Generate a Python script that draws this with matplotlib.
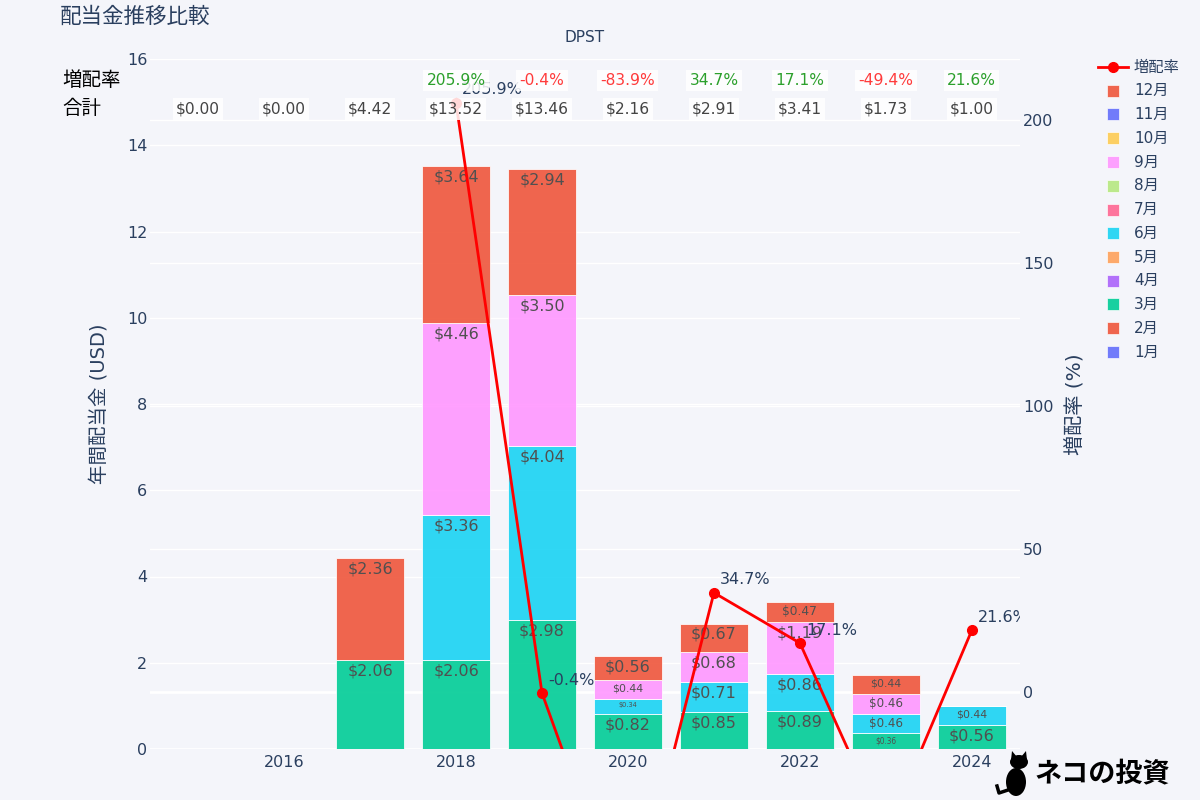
import matplotlib
matplotlib.use("Agg")
import matplotlib.pyplot as plt
from matplotlib.patches import Rectangle, Ellipse, Polygon
from matplotlib.lines import Line2D

plt.rcParams['font.family'] = ['DejaVu Sans', 'Noto Sans CJK JP']

# ---------------- data ----------------
years = [2015, 2016, 2017, 2018, 2019, 2020, 2021, 2022, 2023, 2024]
months = ['1月', '2月', '3月', '4月', '5月', '6月', '7月', '8月', '9月', '10月', '11月', '12月']
mar = [0, 0, 2.06, 2.06, 2.98, 0.82, 0.85, 0.89, 0.36, 0.56]
jun = [0, 0, 0, 3.36, 4.04, 0.34, 0.71, 0.86, 0.46, 0.44]
sep = [0, 0, 0, 4.46, 3.50, 0.44, 0.68, 1.19, 0.46, 0]
dec = [0, 0, 2.36, 3.64, 2.94, 0.56, 0.67, 0.47, 0.44, 0]
totals = [0.00, 0.00, 4.42, 13.52, 13.46, 2.16, 2.91, 3.41, 1.73, 1.00]
growth_years = [2018, 2019, 2020, 2021, 2022, 2023, 2024]
growth = [205.9, -0.4, -83.9, 34.7, 17.1, -49.4, 21.6]
xticks = [2016, 2018, 2020, 2022, 2024]

zeros = [0] * len(years)
month_values = {m: zeros for m in months}
month_values['3月'] = mar
month_values['6月'] = jun
month_values['9月'] = sep
month_values['12月'] = dec

colors = ['#636EFA', '#EF553B', '#00CC96', '#AB63FA', '#FFA15A', '#19D3F3',
          '#FF6692', '#B6E880', '#FF97FF', '#FECB52', '#636EFA', '#EF553B']

bg = '#F4F5FA'
tick_color = '#2a3f5f'

fig = plt.figure(figsize=(12, 8), dpi=100, facecolor=bg)
ax = fig.add_axes([0.125, 0.06375, 0.725, 0.8625])
ax.set_facecolor(bg)
ax2 = ax.twinx()

ax.set_xlim(2014.44, 2024.56)
ax.set_ylim(0, 16)
y2min, y2max = -19.93, 221.3
ax2.set_ylim(y2min, y2max)

# grid lines
for v in range(0, 17, 2):
    ax.axhline(v, color='white', lw=2 if v == 0 else 1, zorder=0)
for v in range(0, 201, 50):
    ax.axhline((v - y2min) / (y2max - y2min) * 16, color='white', lw=2 if v == 0 else 1, zorder=0)

px_per_unit = 690 / 16.0
bottom = [0.0] * len(years)
for m, c in zip(months, colors):
    vals = month_values[m]
    ax.bar(years, vals, width=0.79, bottom=bottom, color=c, alpha=0.9,
           edgecolor='white', linewidth=0.6, zorder=2)
    for x, v, b in zip(years, vals, bottom):
        if v > 0:
            h = v * px_per_unit
            fpx = min(16.0, h - 8.0)
            ax.annotate(f'${v:.2f}', xy=(x, b + v), xytext=(0, -2.5), textcoords='offset points',
                        ha='center', va='top', fontsize=fpx * 0.72, color='#505050', zorder=3)
    bottom = [b + v for b, v in zip(bottom, vals)]

ax.set_xticks(xticks)
ax.set_xticklabels([str(x) for x in xticks])
ax.set_yticks(range(0, 17, 2))
ax.tick_params(axis='x', length=0, pad=4, labelsize=11.5, labelcolor=tick_color)
ax.tick_params(axis='y', length=0, pad=2, labelsize=11.5, labelcolor=tick_color)
for s in ax.spines.values():
    s.set_visible(False)
for s in ax2.spines.values():
    s.set_visible(False)
ax.set_ylabel('年間配当金 (USD)', fontsize=14, color=tick_color, labelpad=13)

# growth line
ax2.plot(growth_years, growth, color='red', lw=2, marker='o', markersize=7, zorder=5)
for x, g in zip(growth_years, growth):
    if y2min <= g <= y2max:
        ax2.annotate(f'{g}%', xy=(x, g), xytext=(4.5, 4), textcoords='offset points',
                     ha='left', va='bottom', fontsize=11.5, color=tick_color,
                     annotation_clip=False, clip_on=True, zorder=6)
ax2.set_yticks(range(0, 201, 50))
ax2.tick_params(axis='y', length=0, pad=2, labelsize=11.5, labelcolor=tick_color)
ax2.set_ylabel('増配率 (%)', fontsize=14.5, color=tick_color, rotation=90, labelpad=9)

# summary rows
for x, t in zip(years, totals):
    ax2.text(x, 14.84, f'${t:.2f}', transform=ax.transData, ha='center', va='center',
             fontsize=11.2, color='#444444', zorder=10,
             bbox=dict(boxstyle='square,pad=0.2', fc='white', ec='none', alpha=0.85))
for x, g in zip(growth_years, growth):
    col = '#2ca02c' if g >= 0 else '#ff3b3b'
    ax2.text(x, 15.51, f'{g}%', transform=ax.transData, ha='center', va='center',
             fontsize=11.2, color=col, zorder=10,
             bbox=dict(boxstyle='square,pad=0.2', fc='white', ec='none', alpha=0.85))
fig.text(62 / 1200, 1 - 80 / 800, '増配率', ha='left', va='center', fontsize=14, color='black')
fig.text(62 / 1200, 1 - 109 / 800, '合計', ha='left', va='center', fontsize=14, color='black')

# titles
fig.text(60 / 1200, 1 - 17 / 800, '配当金推移比較', ha='left', va='center', fontsize=15.5, color=tick_color)
fig.text(585 / 1200, 1 - 38 / 800, 'DPST', ha='center', va='center', fontsize=11, color=tick_color)

# legend (manual)
legend_labels = ['増配率'] + months[::-1]
legend_colors = [None] + colors[::-1]
for i, (lab, c) in enumerate(zip(legend_labels, legend_colors)):
    yp = 1 - (67 + i * 23.75) / 800
    if c is None:
        fig.add_artist(Line2D([1098 / 1200, 1128 / 1200], [yp, yp], color='red', lw=2,
                              transform=fig.transFigure))
        fig.add_artist(Line2D([1113 / 1200], [yp], color='red', marker='o', markersize=7,
                              transform=fig.transFigure))
    else:
        fig.add_artist(Rectangle((1107 / 1200, yp - 6 / 800), 12 / 1200, 12 / 800,
                                 transform=fig.transFigure, fc=c, alpha=0.9, ec='white', lw=0.5))
    fig.text(1134 / 1200, yp, lab, ha='left', va='center', fontsize=11, color=tick_color)


# watermark: small cat silhouette + text
def fx(p):
    return p / 1200


def fy(p):
    return 1 - p / 800


fig.add_artist(Ellipse((fx(1016), fy(782)), 20 / 1200, 28 / 800, transform=fig.transFigure,
                       fc='black', ec='none'))
fig.add_artist(Ellipse((fx(1019), fy(762)), 18 / 1200, 14 / 800, transform=fig.transFigure,
                       fc='black', ec='none'))
fig.add_artist(Polygon([(fx(1011), fy(760)), (fx(1012), fy(751)), (fx(1017), fy(757))],
                       transform=fig.transFigure, fc='black', ec='none'))
fig.add_artist(Polygon([(fx(1021), fy(757)), (fx(1026), fy(751)), (fx(1027), fy(760))],
                       transform=fig.transFigure, fc='black', ec='none'))
fig.add_artist(Line2D([fx(1008), fx(999), fx(997)], [fy(790), fy(793), fy(786)], color='black',
                      lw=2.5, transform=fig.transFigure))
fig.text(1035 / 1200, 1 - 773 / 800, 'ネコの投資', ha='left', va='center', fontsize=19.5,
         family=['Noto Sans CJK JP'], fontweight='bold', color='black')

fig.savefig('out.png', dpi=100, facecolor=bg)
